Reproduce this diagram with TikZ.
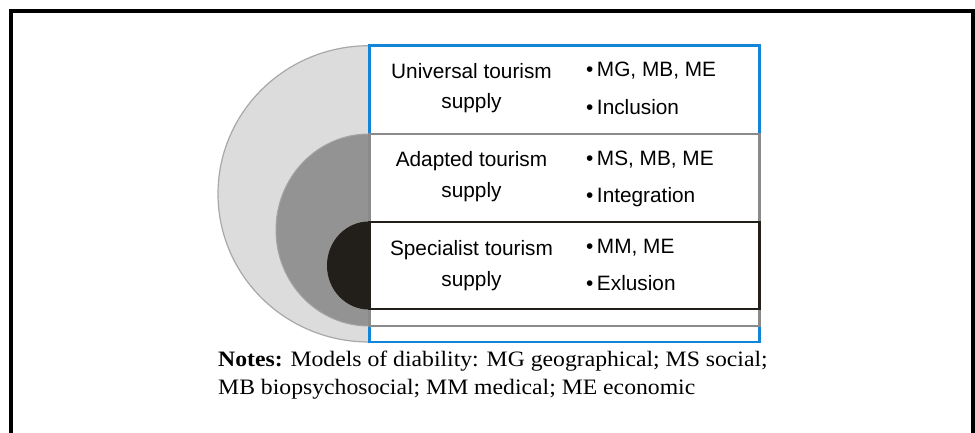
\documentclass[tikz,border=0pt]{standalone}
\usepackage{fontspec}
\setmainfont{Liberation Serif}
\newfontfamily\labelfont{Liberation Sans}
\begin{document}
\begin{tikzpicture}[x=1pt,y=-1pt,
  rowtext/.style={font=\labelfont\fontsize{20.8}{24}\selectfont, anchor=base, inner sep=0pt},
  bullettext/.style={font=\labelfont\fontsize{20.8}{24}\selectfont, anchor=base west, inner sep=0pt},
  notetext/.style={font=\fontsize{22}{26}\selectfont, anchor=base west, inner sep=0pt},
  tier/.style={fill=white, line width=2.4pt}]
\definecolor{ringlight}{HTML}{DCDCDC}
\definecolor{ringlightedge}{HTML}{A8A8A8}
\definecolor{ringmid}{HTML}{939393}
\definecolor{ringdark}{HTML}{221F1B}
\definecolor{tierblue}{HTML}{1285D8}
\definecolor{tiergray}{HTML}{8A8A8A}
\newcommand{\feat}[1]{\textbullet\hspace{3.5pt}#1}
\newcommand{\wide}[1]{\scalebox{1.077}[1]{#1}}
\useasboundingbox (0,0) rectangle (975,433);
% outer frame, open at the bottom
\draw[line width=4pt] (11,433) -- (11,11) -- (973,11) -- (973,433);
% nested half discs
\filldraw[fill=ringlight, draw=ringlightedge, line width=1.2pt]
  (369,45.7) arc[start angle=-90, end angle=-270, x radius=151, y radius=148.15] -- cycle;
\filldraw[fill=ringmid, draw=ringmid!85!white, line width=1pt]
  (369,134) arc[start angle=-90, end angle=-270, x radius=93, y radius=96] -- cycle;
\filldraw[fill=ringdark, draw=ringdark, line width=1pt]
  (369,222) arc[start angle=-90, end angle=-270, x radius=41.5, y radius=43.5] -- cycle;
% nested tiers
\filldraw[tier, draw=tierblue] (369.5,45.7) rectangle (759.5,342);
\filldraw[tier, draw=tiergray] (369.5,134) rectangle (759.5,326);
\filldraw[tier, draw=ringdark] (369.5,222) rectangle (759.5,309);
% tier titles
\node[rowtext] (u1) at (471.5,79) {Universal tourism};
\node[rowtext] (u2) at (471.5,109) {supply};
\node[rowtext] (a1) at (471.5,167) {Adapted tourism};
\node[rowtext] (a2) at (471.5,197) {supply};
\node[rowtext] (s1) at (471.5,255) {Specialist tourism};
\node[rowtext] (s2) at (471.5,286) {supply};
% tier features
\node[bullettext] (ub1) at (586,77) {\feat{MG, MB, ME}};
\node[bullettext] (ub2) at (586,115) {\feat{Inclusion}};
\node[bullettext] (ab1) at (586,166) {\feat{MS, MB, ME}};
\node[bullettext] (ab2) at (586,202) {\feat{Integration}};
\node[bullettext] (sb1) at (586,253) {\feat{MM, ME}};
\node[bullettext] (sb2) at (586,290) {\feat{Exlusion}};
% notes
\node[notetext] (n1) at (218,366) {\wide{\textbf{Notes:} Models of diability: MG geographical; MS social;}};
\node[notetext] (n2) at (218,394.5) {\wide{MB biopsychosocial; MM medical; ME economic}};
\end{tikzpicture}
\end{document}
